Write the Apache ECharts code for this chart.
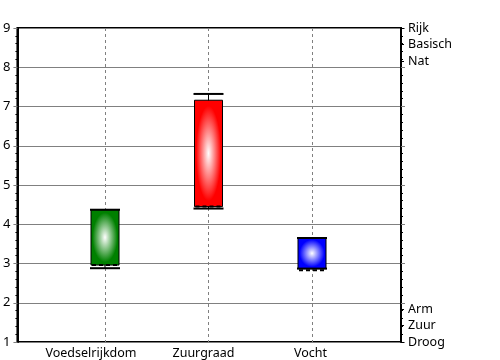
<!DOCTYPE html>
<html><head><meta charset="utf-8">
<script src="https://cdn.jsdelivr.net/npm/echarts@6/dist/echarts.min.js"></script>
<style>html,body{margin:0;padding:0;background:#fff}#c{width:500px;height:360px}</style>
</head><body><div id="c"></div>
<script>
const categories = ['Voedselrijkdom', 'Zuurgraad', 'Vocht'];
const lowValues    = [2.88, 4.40, 2.87];
const q1Values     = [2.96, 4.45, 2.87];
const medianValues = [2.96, 4.45, 2.83];
const q3Values     = [4.37, 7.16, 3.65];
const highValues   = [4.37, 7.32, 3.65];
const boxColors    = ['#008000', '#ff0000', '#0000ff'];
const yTicks = [1, 2, 3, 4, 5, 6, 7, 8, 9];
const rightLabelsBottom = ['Droog', 'Zuur', 'Arm'];
const rightLabelsTop = ['Nat', 'Basisch', 'Rijk'];

const N_RIGHT = 20;
const rightCats = [];
for (let i = 0; i < N_RIGHT; i++) rightCats.push('');
rightLabelsBottom.forEach((t, i) => rightCats[i] = t);
rightLabelsTop.forEach((t, i) => rightCats[N_RIGHT - 3 + i] = t);

const data = categories.map((c, i) => [i, lowValues[i], q1Values[i], medianValues[i], q3Values[i], highValues[i]]);

const FONT = 'Noto Sans';
const chart = echarts.init(document.getElementById('c'));

function renderItem(params, api) {
  const idx = api.value(0);
  const cx = api.coord([idx, 1])[0];
  const yLow = api.coord([idx, api.value(1)])[1];
  const yQ1 = api.coord([idx, api.value(2)])[1];
  const yMed = api.coord([idx, api.value(3)])[1];
  const yQ3 = api.coord([idx, api.value(4)])[1];
  const yHigh = api.coord([idx, api.value(5)])[1];
  const w = 28;
  const left = cx - w / 2;
  const h = yQ1 - yQ3;
  const color = boxColors[params.dataIndex];
  const children = [
    {
      type: 'rect',
      shape: { x: 0, y: 0, width: w, height: w },
      x: left, y: yQ3, scaleY: h / w,
      style: {
        fill: { type: 'radial', x: 0.5, y: 0.5, r: 0.62,
          colorStops: [{ offset: 0, color: '#ffffff' }, { offset: 0.72, color: color }, { offset: 1, color: color }] }
      }
    },
    { type: 'rect', shape: { x: left, y: yQ3, width: w, height: h }, style: { fill: null, stroke: '#000', lineWidth: 1 } }
  ];
  if (yHigh < yQ3 - 0.5) {
    children.push({ type: 'line', shape: { x1: cx, y1: yQ3, x2: cx, y2: yHigh }, style: { stroke: '#000', lineWidth: 1 } });
  }
  children.push({ type: 'line', shape: { x1: cx - 15, y1: yHigh, x2: cx + 15, y2: yHigh }, style: { stroke: '#000', lineWidth: 2 } });
  if (yLow > yQ1 + 0.5) {
    children.push({ type: 'line', shape: { x1: cx, y1: yQ1, x2: cx, y2: yLow }, style: { stroke: '#000', lineWidth: 1 } });
  }
  children.push({ type: 'line', shape: { x1: cx - 15, y1: yLow, x2: cx + 15, y2: yLow }, style: { stroke: '#000', lineWidth: 2 } });
  children.push({ type: 'line', shape: { x1: left + 1, y1: yMed, x2: left + w - 1, y2: yMed }, style: { stroke: '#000', lineWidth: 2, lineDash: [4, 3] } });
  return { type: 'group', children };
}

const labelStyle = { color: '#000', fontSize: 12.5, fontFamily: FONT };

chart.setOption({
  animation: false,
  backgroundColor: '#fff',
  textStyle: { fontFamily: FONT },
  grid: [
    { left: 17, right: 99, top: 28, bottom: 18, show: true, borderColor: '#000', borderWidth: 2, backgroundColor: 'transparent' },
    { left: 105, width: 207, top: 28, bottom: 18 }
  ],
  xAxis: [
    { gridIndex: 0, type: 'value', min: 0, max: 1, show: false },
    { gridIndex: 1, type: 'category', data: categories, boundaryGap: false,
      axisLine: { show: false }, axisTick: { show: false },
      axisLabel: { margin: 5, interval: 0,
        formatter: (v, i) => '{l' + i + '|' + v + '}',
        rich: {
          l0: Object.assign({ padding: [0, 28, 0, 0] }, labelStyle),
          l1: Object.assign({ padding: [0, 10, 0, 0] }, labelStyle),
          l2: Object.assign({ padding: [0, 3, 0, 0] }, labelStyle)
        } },
      splitLine: { show: true, lineStyle: { color: '#808080', type: [3, 3], width: 1 } } }
  ],
  yAxis: [
    { gridIndex: 0, type: 'value', min: yTicks[0], max: yTicks[yTicks.length - 1], interval: 1, position: 'left',
      axisLine: { show: true, lineStyle: { color: '#000', width: 2 } },
      axisTick: { show: true, length: 4, lineStyle: { color: '#808080' } },
      minorTick: { show: true, splitNumber: 5, length: 2, lineStyle: { color: '#000' } },
      axisLabel: { margin: 7, fontSize: 13, color: '#000', fontFamily: FONT },
      splitLine: { show: true, lineStyle: { color: '#808080', width: 1 } } },
    { gridIndex: 0, type: 'value', min: yTicks[0], max: yTicks[yTicks.length - 1], interval: 1, position: 'right',
      axisLine: { show: true, lineStyle: { color: '#000', width: 2 } },
      axisTick: { show: true, length: 4, lineStyle: { color: '#808080' } },
      minorTick: { show: true, splitNumber: 5, length: 2, lineStyle: { color: '#000' } },
      axisLabel: { show: false }, splitLine: { show: false } },
    { gridIndex: 0, type: 'category', data: rightCats, boundaryGap: false, position: 'right',
      axisLine: { show: false },
      axisTick: { show: true, length: 3, interval: (i, v) => v !== '', lineStyle: { color: '#000' } },
      axisLabel: { color: '#000', fontSize: 12.5, fontFamily: FONT, margin: 7, padding: [3, 0, 0, 0], interval: (i, v) => v !== '' },
      splitLine: { show: false } },
    { gridIndex: 1, type: 'value', min: 1, max: 9, show: false }
  ],
  series: [{
    type: 'custom', xAxisIndex: 1, yAxisIndex: 3,
    renderItem: renderItem,
    encode: { x: 0, y: [1, 2, 3, 4, 5] },
    data: data
  }]
});
</script></body></html>
